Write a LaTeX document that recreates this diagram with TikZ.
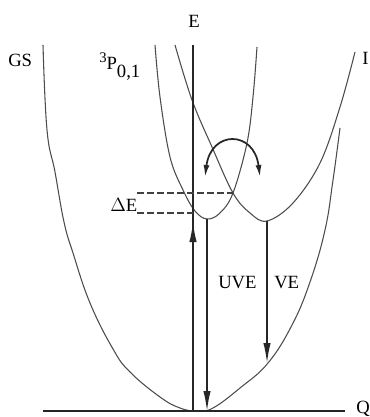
\documentclass[tikz,border=0pt]{standalone}
\usepackage{fontspec}
\setmainfont{Liberation Serif}
\usetikzlibrary{arrows.meta}
\def\ybase{411}
\def\xaxis{193}

\begin{document}
\begin{tikzpicture}[x=0.75pt, y=-0.75pt,
    curve/.style={black!70, line width=0.8pt},
    axis/.style={black!85, line width=1.2pt},
    trans/.style={black!85, line width=1.1pt, -{Latex[length=15pt, width=5.5pt]}},
    level/.style={black!75, line width=1.1pt, dash pattern=on 5pt off 2.5pt},
    lab/.style={inner sep=0pt, anchor=base west, font=\fontsize{14}{16}\selectfont}]
    \useasboundingbox (0,0) rectangle (370,417);

    % Axis end points and the special points on the curves.
    \coordinate (qstart) at (43,\ybase);
    \coordinate (qend) at (345,\ybase);
    \coordinate (o) at (\xaxis,\ybase);
    \coordinate (etop) at (\xaxis,45);
    \coordinate (pmin) at (207,219);
    \coordinate (pbot) at (207,\ybase);
    \coordinate (imin) at (267,221);
    \coordinate (gsve) at (267,363);
    \coordinate (cross) at (233,193);
    \coordinate (uptip) at (\xaxis,222);
    \coordinate (elow) at (\xaxis,213);
    \coordinate (dup) at (137,193);
    \coordinate (dlow) at (137,213);
    \coordinate (arcl) at (205,177);
    \coordinate (arcr) at (260,177);

    % Potential curves.
    \draw[curve] plot[smooth, tension=0.7] coordinates {
        (43,45) (47,130) (55,172) (64,222) (73,253) (90,303) (113,349)
        (130,372) (160,397) (180,408) (197,\ybase) (213,408) (240,388)
        (268,363) (292,325) (310,282) (325,230) (333,180) (340,128)};
    \draw[curve] plot[smooth, tension=0.6] coordinates {
        (155,45) (160,97) (170,157) (183,190) (195,211) (207,219)
        (220,213) (233,193) (247,143) (253,97) (257,47)};
    \draw[curve] plot[smooth, tension=0.6] coordinates {
        (175,45) (192,100) (212,147) (233,193) (250,213) (267,221)
        (293,203) (320,163) (340,107) (355,52)};

    % Axes.
    \draw[axis] (qstart) -- (qend);
    \draw[axis] (o) -- (etop);

    % Energy levels for the barrier.
    \draw[level] (dup) -- (cross);
    \draw[level] (dlow) -- (elow);

    % Transitions.
    \draw[trans] (o) -- (uptip);
    \draw[trans] (pmin) -- (pbot);
    \draw[trans] (imin) -- (gsve);
    \draw[black!85, line width=1.3pt, {Latex[length=9pt, width=4.5pt]}-{Latex[length=9pt, width=4.5pt]}]
    (arcl) .. controls +(6,-47) and +(-6,-47) .. (arcr);

    % Labels.
    \node[lab] (gs) at (8,67) {GS};
    \node[lab] (tp) at (99,70) {\raisebox{5.5pt}{\fontsize{11}{12}\selectfont 3}P\raisebox{-5.5pt}{0,1}};
    \node[lab] (e) at (188,28) {E};
    \node[lab] (i) at (362,65) {I};
    \node[lab] (de) at (110,211) {$\Delta$E};
    \node[lab] (uve) at (218,288) {UVE};
    \node[lab] (ve) at (274,288) {VE};
    \node[lab] (q) at (356,413) {Q};
\end{tikzpicture}
\end{document}
